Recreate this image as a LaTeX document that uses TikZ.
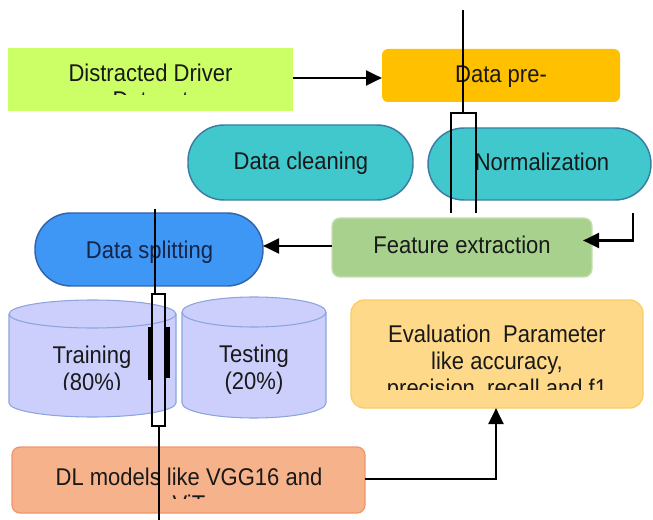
\documentclass[tikz,border=0pt]{standalone}
\usepackage{fontspec}
\setmainfont{Liberation Sans}
\usetikzlibrary{arrows.meta,calc}

\definecolor{ddgreen}{RGB}{204,255,102}
\definecolor{dporange}{RGB}{255,192,0}
\definecolor{pillcyan}{RGB}{64,200,204}
\definecolor{pillcyanedge}{RGB}{58,125,165}
\definecolor{splitblue}{RGB}{62,150,245}
\definecolor{splitblueedge}{RGB}{50,100,170}
\definecolor{fegreen}{RGB}{169,209,142}
\definecolor{fegreenedge}{RGB}{195,225,175}
\definecolor{cylfill}{RGB}{204,206,252}
\definecolor{cyledge}{RGB}{140,165,220}
\definecolor{evfill}{RGB}{255,217,138}
\definecolor{evedge}{RGB}{250,205,100}
\definecolor{dlfill}{RGB}{246,178,138}
\definecolor{dledge}{RGB}{240,150,110}
\definecolor{txt}{RGB}{25,25,25}
\definecolor{txtnavy}{RGB}{22,36,70}

% slightly tall lettering
\newcommand{\tallText}[1]{\scalebox{1}[1.1]{#1}}

\begin{document}
\begin{tikzpicture}[x=0.75pt,y=-0.75pt,
  shapebox/.style={inner sep=0pt, outer sep=0pt},
  pill/.style={shapebox, line width=1.1pt, rounded corners=27pt},
  lbl/.style={font=\fontsize{16.5}{19}\selectfont, text=txt, inner sep=0pt, anchor=base},
  conn/.style={line width=2.2pt, -{Triangle[length=12pt,width=11pt]}},
  strayline/.style={line width=2.1pt, black},
  straybar/.style={line width=2.6pt, black},
]
\useasboundingbox (0,0) rectangle (653,520);

% ---------- boxes ----------
\node[shapebox, fill=ddgreen, minimum width=285*0.75pt, minimum height=63*0.75pt] (dd) at (150.5,79.5) {};
\node[shapebox, fill=dporange, rounded corners=4.5pt, minimum width=238*0.75pt, minimum height=53*0.75pt] (dp) at (501,75.5) {};
\node[pill, fill=pillcyan, draw=pillcyanedge, minimum width=225*0.75pt, minimum height=75*0.75pt] (dc) at (300.5,162.5) {};
\node[pill, fill=pillcyan, draw=pillcyanedge, minimum width=223*0.75pt, minimum height=72*0.75pt] (nm) at (539.5,164) {};
\node[shapebox, fill=fegreen, draw=fegreenedge, line width=1pt, rounded corners=6pt, minimum width=260*0.75pt, minimum height=59*0.75pt] (fe) at (462,247.5) {};
\node[pill, fill=splitblue, draw=splitblueedge, minimum width=228*0.75pt, minimum height=73*0.75pt] (ds) at (149,249.5) {};
\node[shapebox, fill=evfill, draw=evedge, line width=1pt, rounded corners=10pt, minimum width=292*0.75pt, minimum height=108*0.75pt] (ev) at (497,354) {};
\node[shapebox, fill=dlfill, draw=dledge, line width=1pt, rounded corners=6pt, minimum width=353*0.75pt, minimum height=66*0.75pt] (dl) at (188.5,480) {};

% ---------- cylinders ----------
\node[shapebox, minimum width=167*0.75pt, minimum height=118*0.75pt] (tr) at (92.5,358.5) {};
\node[shapebox, minimum width=144*0.75pt, minimum height=120*0.75pt] (te) at (254,357) {};
\filldraw[fill=cylfill, draw=cyledge, line width=0.8pt]
  (9,314) -- (9,403) arc[start angle=180, end angle=360, x radius=62.625pt, y radius=10.5pt]
  -- (176,314) arc[start angle=0, end angle=180, x radius=62.625pt, y radius=10.5pt] -- cycle;
\draw[cyledge, line width=0.8pt] (9,314) arc[start angle=180, end angle=360, x radius=62.625pt, y radius=10.5pt];
\filldraw[fill=cylfill, draw=cyledge, line width=0.8pt]
  (182,312) -- (182,403) arc[start angle=180, end angle=360, x radius=54pt, y radius=11.25pt]
  -- (326,312) arc[start angle=0, end angle=180, x radius=54pt, y radius=11.25pt] -- cycle;
\draw[cyledge, line width=0.8pt] (182,312) arc[start angle=180, end angle=360, x radius=54pt, y radius=11.25pt];

% ---------- labels ----------
\begin{scope}
  \clip (8,48) rectangle (293,94.5);
  \node[lbl] (ddA) at (150.5,82) {\tallText{Distracted Driver}};
  \node[lbl] (ddB) at (150.5,109) {\tallText{Dataset}};
\end{scope}
\node[lbl] (dpA) at (501,83) {\tallText{Data pre-}};
\node[lbl] (dcA) at (301,170) {\tallText{Data cleaning}};
\node[lbl] (nmA) at (542,171) {\tallText{Normalization}};
\node[lbl] (feA) at (462,253) {\tallText{Feature extraction}};
\node[lbl, text=txtnavy] (dsA) at (149.5,258) {\tallText{Data splitting}};
\node[lbl] (trA) at (92,363) {\tallText{Training}};
\begin{scope}
  \clip (9,370) rectangle (176,389);
  \node[lbl] (trB) at (92,390) {\tallText{(80\%)}};
\end{scope}
\node[lbl] (teA) at (254,362) {\tallText{Testing}};
\begin{scope}
  \clip (182,370) rectangle (326,393);
  \node[lbl] (teB) at (254,389) {\tallText{(20\%)}};
\end{scope}
\node[lbl] (evA) at (497,342) {\tallText{Evaluation\ \ Parameter}};
\node[lbl] (evB) at (497,369) {\tallText{like accuracy,}};
\begin{scope}
  \clip (351,375) rectangle (643,389);
  \node[lbl] (evC) at (497,396) {\tallText{precision, recall and f1}};
\end{scope}
\node[lbl] (dlA) at (189,485) {\tallText{DL models like VGG16 and}};
\begin{scope}
  \clip (12,488) rectangle (365,498);
  \node[lbl] (dlB) at (189,512) {\tallText{ViT}};
\end{scope}

% ---------- connectors ----------
\coordinate (rtop) at (633,213);
\coordinate (fein) at ($(fe.east)+(-9,-7)$);
\draw[conn] (dd.east |- 0,78) -- (dp.west |- 0,78);
\draw[conn] (rtop) |- (fein);
\draw[conn] (fe.west |- 0,246) -- (ds.east |- 0,246);
\draw[conn] (dl.east |- 0,479) -| (ev.south -| 496,0);

% ---------- stray marks ----------
\coordinate (sa1) at (463,10);
\coordinate (sa2) at (463,113);
\draw[strayline] (sa1) -- (sa2);
\draw[strayline] (451,213) -- (451,113) -- (476,113) -- (476,213);

\coordinate (sb1) at (155,209);
\coordinate (sb2) at (155,294);
\draw[strayline] (sb1) -- (sb2);
\draw[strayline] (152,294) rectangle (165,426);
\draw[strayline] (159,426) -- (159,520);
\draw[straybar] (150,327) -- (150,380);
\draw[straybar] (168,327) -- (168,378);
\end{tikzpicture}
\end{document}
